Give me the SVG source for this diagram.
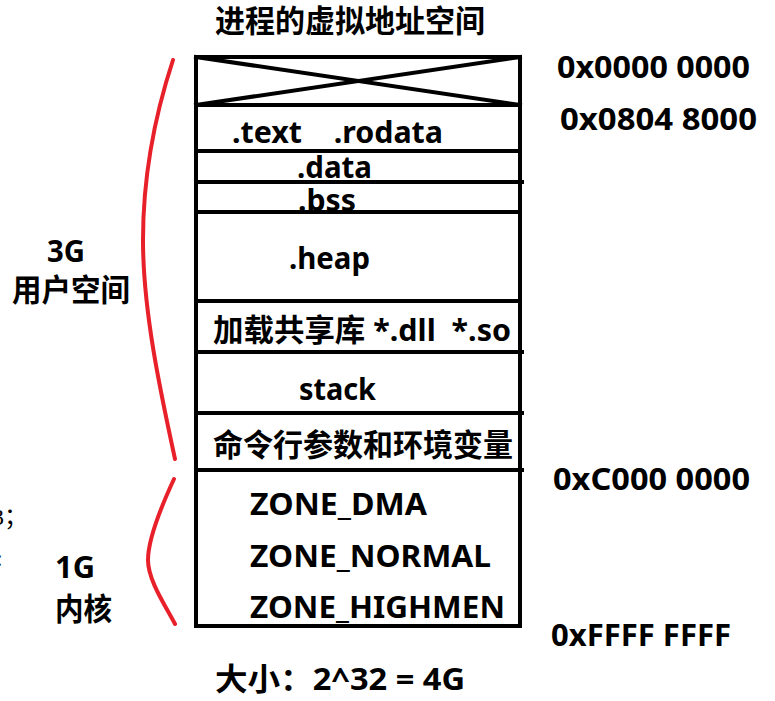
<svg xmlns="http://www.w3.org/2000/svg" width="775" height="701" viewBox="0 0 775 701">
<style>
.t{font-family:"Noto Sans","Noto Sans CJK SC",sans-serif;font-weight:bold;fill:#000;font-size:31px;white-space:pre}
.ln{stroke:#000;stroke-width:4;fill:none;stroke-linecap:square}
.red{stroke:#e8202a;stroke-width:4;fill:none;stroke-linecap:round}
.s{font-family:"Liberation Serif","Noto Sans CJK SC",serif;font-size:24px;fill:#000}
</style>
<rect width="775" height="701" fill="#fff"/>
<text class="t" x="215" y="32" textLength="270" lengthAdjust="spacingAndGlyphs">进程的虚拟地址空间</text>
<g id="frame">
<rect class="ln" x="196" y="57" width="324" height="569"/>
<line class="ln" x1="196" y1="57" x2="520" y2="105"/>
<line class="ln" x1="196" y1="105" x2="520" y2="57"/>
<line class="ln" x1="196" y1="105" x2="520" y2="105"/>
<line class="ln" x1="196" y1="151" x2="517" y2="151"/>
<line class="ln" x1="196" y1="182" x2="522" y2="182"/>
<line class="ln" x1="196" y1="212" x2="520" y2="212"/>
<line class="ln" x1="196" y1="301" x2="520" y2="301"/>
<line class="ln" x1="196" y1="352" x2="522" y2="352"/>
<line class="ln" x1="196" y1="413" x2="522" y2="413"/>
<line class="ln" x1="196" y1="470" x2="522" y2="470"/>
</g>
<g id="seg-text"><text class="t" x="232" y="143" xml:space="preserve" textLength="211" lengthAdjust="spacingAndGlyphs">.text    .rodata</text></g>
<g id="seg-data"><text class="t" x="297" y="178" textLength="75" lengthAdjust="spacingAndGlyphs">.data</text></g>
<g id="seg-bss"><text class="t" x="298" y="211" textLength="58" lengthAdjust="spacingAndGlyphs">.bss</text></g>
<g id="seg-heap"><text class="t" x="289" y="269" textLength="81" lengthAdjust="spacingAndGlyphs">.heap</text></g>
<g id="seg-lib"><text class="t" x="213" y="341" xml:space="preserve" textLength="298" lengthAdjust="spacingAndGlyphs">加载共享库 *.dll  *.so</text></g>
<g id="seg-stack"><text class="t" x="299" y="400" textLength="77" lengthAdjust="spacingAndGlyphs">stack</text></g>
<g id="seg-env"><text class="t" x="213" y="456" textLength="300" lengthAdjust="spacingAndGlyphs">命令行参数和环境变量</text></g>
<g id="kernel">
<text class="t" x="250" y="515" textLength="177" lengthAdjust="spacingAndGlyphs">ZONE_DMA</text>
<text class="t" x="250" y="567" textLength="241" lengthAdjust="spacingAndGlyphs">ZONE_NORMAL</text>
<text class="t" x="250" y="618" textLength="255" lengthAdjust="spacingAndGlyphs">ZONE_HIGHMEN</text>
</g>
<g id="addrs">
<text class="t" x="557" y="78" textLength="193" lengthAdjust="spacingAndGlyphs">0x0000 0000</text>
<text class="t" x="560" y="130" textLength="197" lengthAdjust="spacingAndGlyphs">0x0804 8000</text>
<text class="t" x="553" y="490" textLength="197" lengthAdjust="spacingAndGlyphs">0xC000 0000</text>
<text class="t" x="551" y="646" textLength="180" lengthAdjust="spacingAndGlyphs">0xFFFF FFFF</text>
</g>
<g id="braces">
<path class="red" d="M173,60 C150,130 143,190 143,240 C143,310 160,390 175,459"/>
<path class="red" d="M174,479 C155,520 148,545 148,560 C148,580 165,605 175,624"/>
</g>
<g id="user-label">
<text class="t" x="47" y="262" textLength="38" lengthAdjust="spacingAndGlyphs">3G</text>
<text class="t" x="12" y="301" textLength="118" lengthAdjust="spacingAndGlyphs">用户空间</text>
</g>
<g id="kernel-label">
<text class="t" x="55" y="578" textLength="40" lengthAdjust="spacingAndGlyphs">1G</text>
<text class="t" x="55" y="620" textLength="57" lengthAdjust="spacingAndGlyphs">内核</text>
</g>
<text class="t" x="215" y="690" xml:space="preserve" textLength="250" lengthAdjust="spacingAndGlyphs">大小：2^32 = 4G</text>
<text class="s" x="-8" y="525">3；</text>
<text class="s" x="-4" y="566" fill="#334">:</text>
</svg>
